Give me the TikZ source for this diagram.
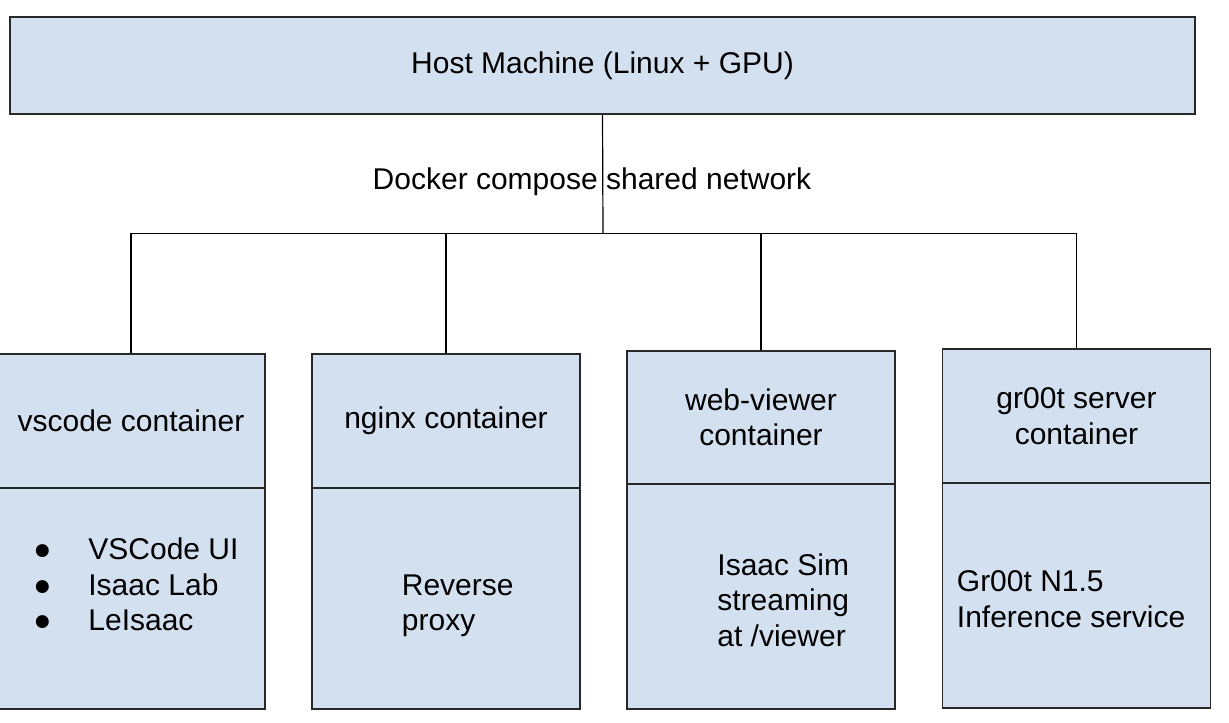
\documentclass[tikz,border=0pt]{standalone}
\usepackage{fontspec}
\setmainfont{Liberation Sans}
\usepackage{tikz}
\usepackage{color}

\definecolor{boxblue}{RGB}{211,224,240}
\definecolor{edgegray}{RGB}{40,40,40}

\begin{document}
\begin{tikzpicture}[x=0.5pt,y=0.5pt]
\tikzstyle{every node}+=[inner sep=0pt, font=\fontsize{15}{17.75}\selectfont]
\tikzstyle{hostbox}=[draw=edgegray, fill=boxblue, line width=0.6pt, minimum width=592.5pt, minimum height=48.5pt]
\tikzstyle{hdrbox}=[draw=edgegray, fill=boxblue, line width=0.6pt, minimum width=134pt, minimum height=67pt, align=center]
\tikzstyle{bodybox}=[draw=edgegray, fill=boxblue, line width=0.6pt, minimum width=134pt, minimum height=111pt]
\tikzstyle{wire}=[black, line width=0.6pt]
\useasboundingbox (0,0) rectangle (1229,-722);
% host
\node [hostbox] (host) at (602.5,-65.5) {Host Machine (Linux + GPU)};
\node [anchor=base] (netlbl) at (592,-189.3) {Docker compose shared network};
\coordinate (bus) at (603,-233.5);
% containers: header + body
\node [hdrbox] (vscodeH) at (131,-421) {vscode container};
\node [bodybox, minimum height=110.5pt] (vscodeB) at (131,-598.5) {};
\node [hdrbox] (nginxH) at (446,-421) {nginx container};
\node [bodybox, minimum height=110.5pt] (nginxB) at (446,-598.5) {};
\node [hdrbox, minimum height=66.5pt] (webH) at (761,-417.5) {web-viewer\\container};
\node [bodybox, minimum height=112.5pt] (webB) at (761,-596.5) {};
\node [hdrbox] (grootH) at (1076.5,-416) {gr00t server\\container};
\node [bodybox, minimum height=112.5pt] (grootB) at (1076.5,-595.5) {};
% body texts (anchored at last baseline)
\node [anchor=base west, align=left] (vscodeT) at (33,-630.5)
  {\makebox[27.5pt][l]{●}VSCode UI\\\makebox[27.5pt][l]{●}Isaac Lab\\\makebox[27.5pt][l]{●}LeIsaac};
\node [anchor=base west, align=left] (nginxT) at (401.5,-630.5) {Reverse\\proxy};
\node [anchor=base west, align=left] (webT) at (717,-646) {Isaac Sim\\streaming\\at /viewer};
\node [anchor=base west, align=left] (grootT) at (956.5,-627) {Gr00t N1.5\\Inference service};
% network lines
\draw [wire] (host.south) -- (bus);
\draw [wire] (vscodeH.north) -- (vscodeH.north |- bus) -- (grootH.north |- bus) -- (grootH.north);
\draw [wire] (nginxH.north) -- (nginxH.north |- bus);
\draw [wire] (webH.north) -- (webH.north |- bus);
\end{tikzpicture}
\end{document}
